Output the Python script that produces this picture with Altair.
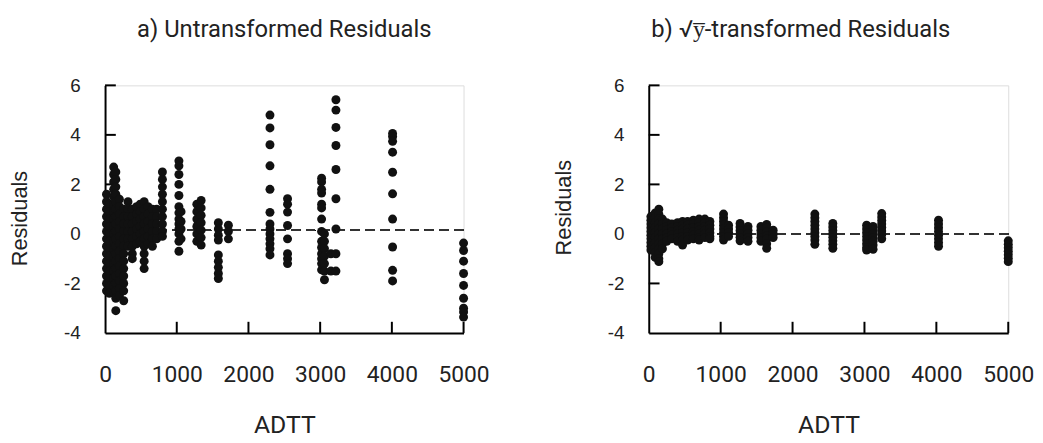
import altair as alt
import pandas as pd

# ---------------- data ----------------
# Panel a) untransformed residuals: ADTT positions and residuals at each
a_adtt = [20, 60, 120, 150, 200, 260, 320, 380, 440, 490, 545, 600, 660, 720,
          800, 1030, 1060, 1280, 1340, 1580, 1720,
          2300, 2545, 3020, 3060, 3150, 3220, 4010, 5000]
a_resid = [
    [1.6, 1.3, 1.0, 0.7, 0.4, 0.1, -0.2, -0.5, -0.8, -1.1, -1.4, -1.7, -2.0, -2.3],
    [1.2, 0.9, 0.6, 0.3, 0.0, -0.3, -0.6, -0.9, -1.2, -1.5, -1.8, -2.1, -2.4],
    [2.7, 2.4, 2.1, 1.8, 1.5, 1.2, 0.9, 0.6, 0.3, 0.0, -0.3, -0.6, -0.9, -1.2, -1.5, -1.8, -2.1, -2.4],
    [2.5, 2.2, 1.9, 1.6, 1.3, 1.0, 0.7, 0.4, 0.1, -0.2, -0.5, -0.8, -1.1, -1.4, -1.7, -2.0, -2.3, -2.6, -3.1],
    [1.4, 1.1, 0.8, 0.5, 0.2, -0.1, -0.4, -0.7, -1.0, -1.3, -1.6, -1.9, -2.2, -2.5],
    [1.0, 0.7, 0.4, 0.1, -0.2, -0.5, -0.8, -1.1, -1.4, -1.7, -2.0, -2.3, -2.7],
    [1.3, 1.0, 0.7, 0.4, 0.1, -0.2, -0.5],
    [1.0, 0.7, 0.4, 0.1, -0.2, -0.5, -0.8, -1.0],
    [1.1, 0.8, 0.5, 0.2, -0.1, -0.4],
    [1.2, 0.9, 0.6, 0.3, 0.0, -0.3],
    [1.3, 1.0, 0.7, 0.4, 0.1, -0.2, -0.5, -0.8, -1.1, -1.4],
    [1.1, 0.8, 0.5, 0.2, -0.1, -0.4],
    [1.0, 0.7, 0.4, 0.1, -0.2, -0.5],
    [1.0, 0.7, 0.4, 0.1, -0.2],
    [2.5, 2.2, 1.9, 1.6, 1.3, 1.0, 0.7, 0.4, 0.1, -0.1],
    [2.95, 2.75, 2.4, 2.0, 1.55, 1.1, 0.85, 0.6, 0.4, 0.2, 0.0, -0.3, -0.7],
    [0.9, 0.5, 0.2, -0.2],
    [1.2, 0.9, 0.6, 0.3, 0.0, -0.3],
    [1.35, 1.05, 0.75, 0.45, 0.15, -0.15, -0.45],
    [0.45, 0.2, -0.05, -0.25, -0.85, -1.1, -1.35, -1.6, -1.8],
    [0.35, 0.1, -0.2],
    [4.8, 4.28, 3.6, 2.75, 1.8, 0.87, 0.4, 0.2, 0.0, -0.2, -0.4, -0.6, -0.85],
    [1.42, 1.2, 0.88, 0.34, -0.2, -0.8, -1.0, -1.2],
    [2.25, 2.1, 1.8, 1.65, 1.2, 1.05, 0.6, 0.1, -0.3, -0.55, -0.8, -1.0, -1.2, -1.45],
    [0.0, -0.3, -0.6, -0.9, -1.2, -1.5, -1.85],
    [-0.8, -1.5],
    [5.42, 5.0, 4.3, 3.57, 2.6, 1.42, 0.2, -0.8, -1.5],
    [4.06, 3.93, 3.74, 3.3, 2.49, 1.62, 0.6, -0.53, -1.47, -1.9],
    [-0.37, -0.67, -1.1, -1.6, -2.08, -2.6, -3.0, -3.15, -3.36],
]
a_ref = 0.15

# Panel b) sqrt(y)-transformed residuals
b_adtt = [30, 90, 140, 190, 250, 320, 400, 470, 540, 620, 700, 780, 850,
          1040, 1110, 1270, 1380, 1560, 1640, 1730,
          2310, 2560, 3030, 3120, 3240, 4030, 5000]
b_resid = [
    [0.7, 0.55, 0.4, 0.25, 0.1, -0.05, -0.2, -0.35, -0.5, -0.65],
    [0.85, 0.65, 0.45, 0.25, 0.05, -0.15, -0.35, -0.55, -0.75, -0.95],
    [1.0, 0.8, 0.6, 0.4, 0.2, 0.0, -0.2, -0.4, -0.6, -0.8, -1.0, -1.12],
    [0.6, 0.4, 0.2, 0.0, -0.2, -0.4, -0.6],
    [0.45, 0.3, 0.15, 0.0, -0.15, -0.3],
    [0.4, 0.25, 0.1, -0.05, -0.2],
    [0.45, 0.3, 0.15, 0.0, -0.15, -0.3],
    [0.5, 0.35, 0.2, 0.05, -0.1, -0.25, -0.45],
    [0.5, 0.35, 0.2, 0.05, -0.1, -0.25],
    [0.55, 0.4, 0.25, 0.1, -0.05, -0.2],
    [0.6, 0.45, 0.3, 0.15, 0.0, -0.15, -0.25],
    [0.6, 0.45, 0.3, 0.15, 0.0, -0.15],
    [0.5, 0.35, 0.2, 0.05, -0.1, -0.2],
    [0.8, 0.65, 0.5, 0.35, 0.2, 0.05, -0.1, -0.25],
    [0.35, 0.2, 0.05, -0.1],
    [0.42, 0.28, 0.14, 0.0, -0.14, -0.28],
    [0.3, 0.15, 0.0, -0.15, -0.3],
    [0.3, 0.15, 0.0, -0.15, -0.3],
    [0.38, 0.23, 0.08, -0.07, -0.22, -0.4, -0.58],
    [0.15, 0.0, -0.15],
    [0.8, 0.65, 0.5, 0.35, 0.2, 0.05, -0.1, -0.25, -0.42],
    [0.42, 0.28, 0.14, 0.0, -0.14, -0.28, -0.42, -0.58],
    [0.35, 0.2, 0.05, -0.1, -0.25, -0.4, -0.55, -0.65],
    [0.3, 0.15, 0.0, -0.15, -0.3, -0.45, -0.62],
    [0.82, 0.68, 0.54, 0.4, 0.26, 0.12, -0.02, -0.2],
    [0.55, 0.4, 0.25, 0.1, -0.05, -0.2, -0.35, -0.5],
    [-0.28, -0.42, -0.56, -0.7, -0.84, -0.98, -1.12],
]
b_ref = 0.0

x_ticks = [0, 1000, 2000, 3000, 4000, 5000]
y_ticks = [-4, -2, 0, 2, 4, 6]
title_a = "a) Untransformed Residuals"
title_b = "b) \u221ay\u0305-transformed Residuals"

PANEL_H = 250
X_MIN, X_MAX = 0, 5000
Y_MIN, Y_MAX = -4, 6
# inward tick length, expressed in data units of each axis (~11 px)
X_TICK_LEN = 0.45     # residual units
Y_TICK_LEN = 150      # ADTT units


def frame(xs, ys):
    rows = []
    for x, col in zip(xs, ys):
        for y in col:
            rows.append({"ADTT": x, "Residual": y})
    return pd.DataFrame(rows)


def panel(df, ref, title, width, title_dx, ytitle_y):
    xaxis = alt.Axis(values=x_ticks, title="ADTT", format="d",
                     labelFont="Roboto", labelFontSize=23, labelColor="#222",
                     labelFlush=False, labelBaseline="alphabetic",
                     labelPadding=49, tickSize=0, domainColor="#000",
                     domainWidth=2, grid=False, titleFont="Roboto",
                     titleFontSize=25, titleFontWeight="normal",
                     titleColor="#222", titleBaseline="alphabetic", titleY=101)
    yaxis = alt.Axis(values=y_ticks, title="Residuals",
                     labelFont="Liberation Sans", labelFontSize=19,
                     labelColor="#222", labelPadding=25, labelFlush=False,
                     labelExpr="datum.value < 0 ? '-' + abs(datum.value) : '' + datum.value",
                     tickSize=0, domainColor="#000", domainWidth=2,
                     grid=False, titleFont="Liberation Sans",
                     titleFontSize=22, titleFontWeight="normal",
                     titleColor="#222", titleBaseline="middle", titleX=-86,
                     titleY=ytitle_y)
    xs = alt.Scale(domain=[X_MIN, X_MAX], nice=False, zero=False)
    ys = alt.Scale(domain=[Y_MIN, Y_MAX], nice=False, zero=False)
    pts = alt.Chart(df).mark_circle(size=82, color="#111", opacity=1).encode(
        x=alt.X("ADTT:Q", scale=xs, axis=xaxis),
        y=alt.Y("Residual:Q", scale=ys, axis=yaxis),
    )
    rule = alt.Chart(df).mark_rule(strokeDash=[9, 6], color="#333",
                                   strokeWidth=1.5).encode(y=alt.datum(ref))
    xt = alt.Chart(pd.DataFrame({"t": x_ticks[1:], "b": Y_MIN,
                                 "e": Y_MIN + X_TICK_LEN})).mark_rule(
        color="#000", strokeWidth=2).encode(
        x=alt.X("t:Q"), y=alt.Y("b:Q"), y2=alt.Y2("e:Q"))
    yt = alt.Chart(pd.DataFrame({"t": y_ticks[1:], "b": X_MIN,
                                 "e": X_MIN + Y_TICK_LEN})).mark_rule(
        color="#000", strokeWidth=2).encode(
        y=alt.Y("t:Q"), x=alt.X("b:Q"), x2=alt.X2("e:Q"))
    return alt.layer(rule, xt, yt, pts).properties(
        width=width, height=PANEL_H,
        title=alt.TitleParams(title, font="Roboto", fontSize=24,
                              fontWeight="normal", color="#222",
                              anchor="middle", offset=35, dx=title_dx),
    )


left = panel(frame(a_adtt, a_resid), a_ref, title_a, 362, 0, 134)
right = panel(frame(b_adtt, b_resid), b_ref, title_b, 363, -28, 123)

chart = alt.hconcat(left, right, spacing=62).properties(
    padding={"left": 0, "top": 7, "right": 0, "bottom": 0}
).configure_view(stroke="transparent").configure(background="white")

chart.save("out.html", embed_options={"renderer": "svg", "actions": False})
